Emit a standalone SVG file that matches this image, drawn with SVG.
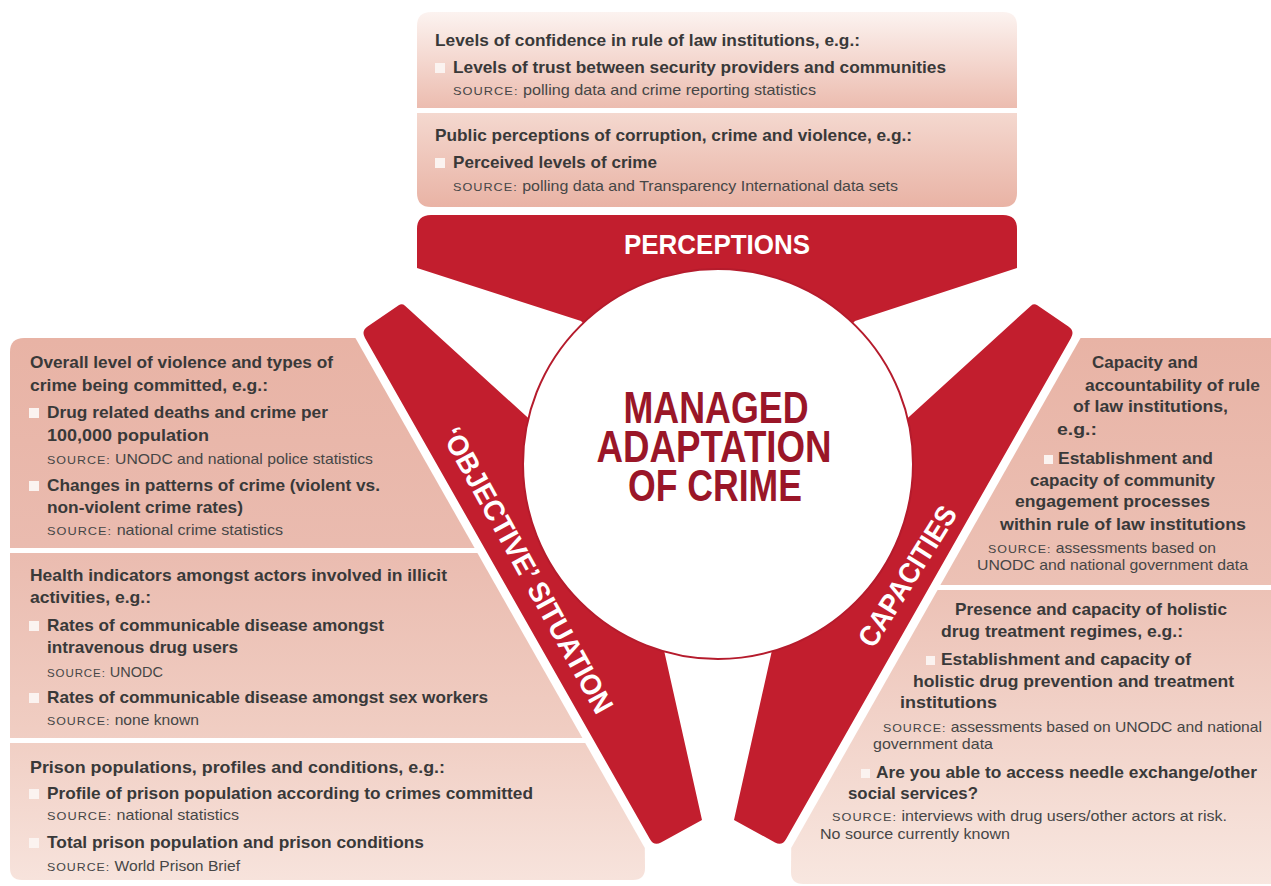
<svg xmlns="http://www.w3.org/2000/svg" xmlns:xlink="http://www.w3.org/1999/xlink" width="1271" height="886" viewBox="0 0 1271 886">
<defs>
<style>
text { font-family: "Liberation Sans", Arial, Helvetica, sans-serif; }
.h, .b { font-weight: 700; font-size: 17px; fill: #393939; }
.s { font-size: 14.5px; fill: #464646; }
.sc { font-size: 11.5px; letter-spacing: 0.9px; }
.sq { fill: #fbf3f0; }
.red { fill: #c21e2e; }
.lbl { font-weight: 700; fill: #ffffff; font-size: 29px; }
.ctr { font-weight: 700; fill: #9a1628; font-size: 44px; }
</style>
<linearGradient id="gTop1" x1="0" y1="0" x2="0" y2="1">
<stop offset="0" stop-color="#fcf3f0"/>
<stop offset="1" stop-color="#ecbcaf"/>
</linearGradient>
<linearGradient id="gTop2" x1="0" y1="0" x2="0" y2="1">
<stop offset="0" stop-color="#f4d8cf"/>
<stop offset="1" stop-color="#e9b3a5"/>
</linearGradient>
<linearGradient id="gLeft" gradientUnits="userSpaceOnUse" x1="0" y1="338" x2="0" y2="880">
<stop offset="0" stop-color="#e8b3a5"/>
<stop offset="0.38" stop-color="#eabbaf"/>
<stop offset="0.72" stop-color="#f0cdc2"/>
<stop offset="1" stop-color="#f7e3dc"/>
</linearGradient>
<linearGradient id="gRight" gradientUnits="userSpaceOnUse" x1="0" y1="338" x2="0" y2="886">
<stop offset="0" stop-color="#e8b3a5"/>
<stop offset="0.45" stop-color="#ecc1b5"/>
<stop offset="1" stop-color="#f8e7e0"/>
</linearGradient>
<path id="arm" d="M405,305.7 L560,447 L718,464 L655,610 L702,820 L661,842.5 Q654,846.3 650,839.3 L365,338 Q361,331 367.6,326.5 L398.7,305.2 Q402,303 405,305.7 Z"/>
</defs>

<g id="perceptions-box-1">
<path d="M417,26 Q417,12 431,12 L1003,12 Q1017,12 1017,26 L1017,108 L417,108 Z" fill="url(#gTop1)"/>
<text class="h" x="435" y="46" textLength="425" lengthAdjust="spacingAndGlyphs">Levels of confidence in rule of law institutions, e.g.:</text>
<rect class="sq" x="435" y="63" width="10" height="10"/>
<text class="b" x="453" y="73" textLength="493" lengthAdjust="spacingAndGlyphs">Levels of trust between security providers and communities</text>
<text class="s" x="453" y="95" textLength="363" lengthAdjust="spacingAndGlyphs"><tspan class="sc">SOURCE:</tspan> polling data and crime reporting statistics</text>
</g>

<g id="perceptions-box-2">
<path d="M417,113 L1017,113 L1017,193 Q1017,207 1003,207 L431,207 Q417,207 417,193 Z" fill="url(#gTop2)"/>
<text class="h" x="435" y="141" textLength="477" lengthAdjust="spacingAndGlyphs">Public perceptions of corruption, crime and violence, e.g.:</text>
<rect class="sq" x="435" y="158" width="10" height="10"/>
<text class="b" x="453" y="168" textLength="204" lengthAdjust="spacingAndGlyphs">Perceived levels of crime</text>
<text class="s" x="453" y="191" textLength="445" lengthAdjust="spacingAndGlyphs"><tspan class="sc">SOURCE:</tspan> polling data and Transparency International data sets</text>
</g>

<g id="situation-box-1">
<path d="M10,352 Q10,338 24,338 L355.4,338 L474.6,548 L10,548 Z" fill="url(#gLeft)"/>
<text class="h" x="30" y="368" textLength="303" lengthAdjust="spacingAndGlyphs">Overall level of violence and types of</text>
<text class="h" x="30" y="391" textLength="238" lengthAdjust="spacingAndGlyphs">crime being committed, e.g.:</text>
<rect class="sq" x="29" y="408" width="10" height="10"/>
<text class="b" x="47" y="418" textLength="281" lengthAdjust="spacingAndGlyphs">Drug related deaths and crime per</text>
<text class="b" x="47" y="441" textLength="162" lengthAdjust="spacingAndGlyphs">100,000 population</text>
<text class="s" x="47" y="464" textLength="326" lengthAdjust="spacingAndGlyphs"><tspan class="sc">SOURCE:</tspan> UNODC and national police statistics</text>
<rect class="sq" x="29" y="481" width="10" height="10"/>
<text class="b" x="47" y="491" textLength="333" lengthAdjust="spacingAndGlyphs">Changes in patterns of crime (violent vs.</text>
<text class="b" x="47" y="513" textLength="196" lengthAdjust="spacingAndGlyphs">non-violent crime rates)</text>
<text class="s" x="47" y="535" textLength="236" lengthAdjust="spacingAndGlyphs"><tspan class="sc">SOURCE:</tspan> national crime statistics</text>
</g>

<g id="situation-box-2">
<path d="M10,553 L477.4,553 L582.4,738 L10,738 Z" fill="url(#gLeft)"/>
<text class="h" x="30" y="581" textLength="417" lengthAdjust="spacingAndGlyphs">Health indicators amongst actors involved in illicit</text>
<text class="h" x="30" y="603" textLength="121" lengthAdjust="spacingAndGlyphs">activities, e.g.:</text>
<rect class="sq" x="29" y="621" width="10" height="10"/>
<text class="b" x="47" y="631" textLength="337" lengthAdjust="spacingAndGlyphs">Rates of communicable disease amongst</text>
<text class="b" x="47" y="653" textLength="191" lengthAdjust="spacingAndGlyphs">intravenous drug users</text>
<text class="s" x="47" y="677" textLength="116" lengthAdjust="spacingAndGlyphs"><tspan class="sc">SOURCE:</tspan> UNODC</text>
<rect class="sq" x="29" y="693" width="10" height="10"/>
<text class="b" x="47" y="703" textLength="441" lengthAdjust="spacingAndGlyphs">Rates of communicable disease amongst sex workers</text>
<text class="s" x="47" y="725" textLength="152" lengthAdjust="spacingAndGlyphs"><tspan class="sc">SOURCE:</tspan> none known</text>
</g>

<g id="situation-box-3">
<path d="M10,743 L585.2,743 L644.8,848 L645,868 Q645,880 633,880 L22,880 Q10,880 10,868 Z" fill="url(#gLeft)"/>
<text class="h" x="30" y="773" textLength="415" lengthAdjust="spacingAndGlyphs">Prison populations, profiles and conditions, e.g.:</text>
<rect class="sq" x="29" y="789" width="10" height="10"/>
<text class="b" x="47" y="799" textLength="486" lengthAdjust="spacingAndGlyphs">Profile of prison population according to crimes committed</text>
<text class="s" x="47" y="820" textLength="192" lengthAdjust="spacingAndGlyphs"><tspan class="sc">SOURCE:</tspan> national statistics</text>
<rect class="sq" x="29" y="838" width="10" height="10"/>
<text class="b" x="47" y="848" textLength="377" lengthAdjust="spacingAndGlyphs">Total prison population and prison conditions</text>
<text class="s" x="47" y="871" textLength="193" lengthAdjust="spacingAndGlyphs"><tspan class="sc">SOURCE:</tspan> World Prison Brief</text>
</g>

<g id="capacities-box-1">
<path d="M1080.6,338 L1275,338 L1275,585 L940.4,585 Z" fill="url(#gRight)"/>
<text class="h" x="1092" y="368" textLength="106" lengthAdjust="spacingAndGlyphs">Capacity and</text>
<text class="h" x="1085" y="391" textLength="175" lengthAdjust="spacingAndGlyphs">accountability of rule</text>
<text class="h" x="1073" y="412" textLength="155" lengthAdjust="spacingAndGlyphs">of law institutions,</text>
<text class="h" x="1057" y="435" textLength="40" lengthAdjust="spacingAndGlyphs">e.g.:</text>
<rect class="sq" x="1044" y="455" width="9" height="9"/>
<text class="b" x="1058" y="464" textLength="155" lengthAdjust="spacingAndGlyphs">Establishment and</text>
<text class="b" x="1030" y="486" textLength="185" lengthAdjust="spacingAndGlyphs">capacity of community</text>
<text class="b" x="1015" y="507" textLength="195" lengthAdjust="spacingAndGlyphs">engagement processes</text>
<text class="b" x="1000" y="530" textLength="246" lengthAdjust="spacingAndGlyphs">within rule of law institutions</text>
<text class="s" x="988" y="553" textLength="228" lengthAdjust="spacingAndGlyphs"><tspan class="sc">SOURCE:</tspan> assessments based on</text>
<text class="s" x="977" y="570" textLength="271" lengthAdjust="spacingAndGlyphs">UNODC and national government data</text>
</g>

<g id="capacities-box-2">
<path d="M937.6,590 L1275,590 L1275,884 L803,884 Q791,884 791,872 L791.2,848 Z" fill="url(#gRight)"/>
<text class="h" x="955" y="615" textLength="272" lengthAdjust="spacingAndGlyphs">Presence and capacity of holistic</text>
<text class="h" x="941" y="637" textLength="242" lengthAdjust="spacingAndGlyphs">drug treatment regimes, e.g.:</text>
<rect class="sq" x="926" y="656" width="9" height="9"/>
<text class="b" x="941" y="665" textLength="250" lengthAdjust="spacingAndGlyphs">Establishment and capacity of</text>
<text class="b" x="913" y="687" textLength="321" lengthAdjust="spacingAndGlyphs">holistic drug prevention and treatment</text>
<text class="b" x="900" y="708" textLength="97" lengthAdjust="spacingAndGlyphs">institutions</text>
<text class="s" x="883" y="732" textLength="379" lengthAdjust="spacingAndGlyphs"><tspan class="sc">SOURCE:</tspan> assessments based on UNODC and national</text>
<text class="s" x="873" y="749" textLength="120" lengthAdjust="spacingAndGlyphs">government data</text>
<rect class="sq" x="861" y="769" width="9" height="9"/>
<text class="b" x="876" y="778" textLength="381" lengthAdjust="spacingAndGlyphs">Are you able to access needle exchange/other</text>
<text class="b" x="848" y="799" textLength="130" lengthAdjust="spacingAndGlyphs">social services?</text>
<text class="s" x="832" y="821" textLength="395" lengthAdjust="spacingAndGlyphs"><tspan class="sc">SOURCE:</tspan> interviews with drug users/other actors at risk.</text>
<text class="s" x="820" y="839" textLength="190" lengthAdjust="spacingAndGlyphs">No source currently known</text>
</g>

<g id="perceptions">
<path class="red" d="M417,229 Q417,215 431,215 L1003,215 Q1017,215 1017,229 L1017,268 L855,321 L718,464 L581,321 L417,268 Z"/>
<text class="lbl" x="717" y="254" text-anchor="middle" textLength="186" lengthAdjust="spacingAndGlyphs" style="font-size:28px">PERCEPTIONS</text>
</g>

<g id="objective-situation">
<use xlink:href="#arm" href="#arm" class="red"/>
<text class="lbl" transform="translate(528,570) rotate(61)" x="0" y="10.5" text-anchor="middle" textLength="322" lengthAdjust="spacingAndGlyphs">‘OBJECTIVE’ SITUATION</text>
</g>

<g id="capacities">
<use xlink:href="#arm" href="#arm" class="red" transform="matrix(-1,0,0,1,1436,0)"/>
<text class="lbl" transform="translate(907,576) rotate(-58)" x="0" y="10.5" text-anchor="middle" textLength="160" lengthAdjust="spacingAndGlyphs">CAPACITIES</text>
</g>

<g id="managed-adaptation-of-crime">
<circle cx="718" cy="464" r="195" fill="#ffffff" stroke="#b51b2c" stroke-width="2"/>
<text class="ctr" text-anchor="middle"><tspan x="716" y="423" textLength="185" lengthAdjust="spacingAndGlyphs">MANAGED</tspan><tspan x="714" y="462" textLength="235" lengthAdjust="spacingAndGlyphs">ADAPTATION</tspan><tspan x="715" y="501" textLength="174" lengthAdjust="spacingAndGlyphs">OF CRIME</tspan></text>
</g>

<g id="connectors"></g>
</svg>
